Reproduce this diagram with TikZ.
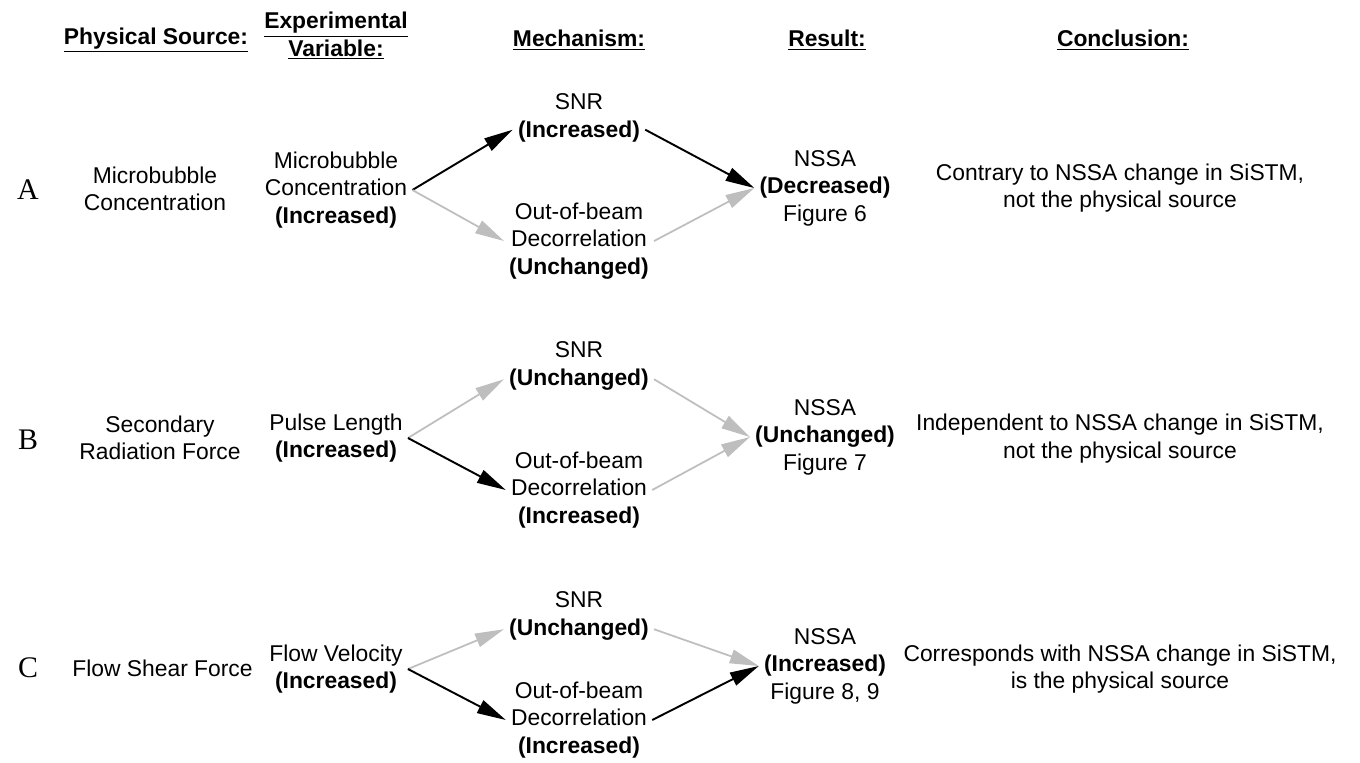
\documentclass[tikz,border=0pt]{standalone}
\usepackage{fontspec}
\setmainfont{Liberation Sans}
\newfontfamily\letterfont{Liberation Serif}
\usetikzlibrary{arrows.meta,positioning}
\definecolor{pathgray}{HTML}{BEBEBE}
\tikzset{
  >={Triangle[length=5.8mm,width=2.8mm]},
  tx/.style={font=\fontsize{13}{15.6}\selectfont,align=center,inner sep=3pt,outer sep=0pt},
  hd/.style={font=\fontsize{13}{15.6}\selectfont\bfseries,align=center,inner sep=2pt},
  rowlbl/.style={font=\letterfont\fontsize{17}{20}\selectfont},
  act/.style={->,draw=black,line width=1.1pt},
  inact/.style={->,draw=pathgray,line width=1pt},
}
\begin{document}
\begin{tikzpicture}[every node/.append style={tx}]
  \useasboundingbox (0,0) rectangle (27.2,-15.24);
  % kolumnrubriker
  \node[hd] (hsrc) at (3.12,-0.8) {\underline{Physical Source:}};
  \node[hd] (hvar) at (6.72,-0.72) {\underline{Experimental}\\\underline{Variable:}};
  \node[hd] (hmech) at (11.58,-0.8) {\underline{Mechanism:}};
  \node[hd] (hres) at (16.54,-0.8) {\underline{Result:}};
  \node[hd] (hconc) at (22.46,-0.8) {\underline{Conclusion:}};
  % A
  \node[rowlbl] (la) at (0.56,-3.8) {A};
  \node (srcA) at (3.1,-3.78) {Microbubble\\Concentration};
  \node (varA) at (6.72,-3.8) {Microbubble\\Concentration\\\textbf{(Increased)}};
  \node (snrA) at (11.58,-2.36) {SNR\\\textbf{(Increased)}};
  \node (oobA) at (11.58,-4.82) {Out-of-beam\\Decorrelation\\\textbf{(Unchanged)}};
  \node (nssaA) at (16.5,-3.76) {NSSA\\\textbf{(Decreased)}\\Figure 6};
  \node (concA) at (22.4,-3.76) {Contrary to NSSA change in SiSTM,\\not the physical source};
  \draw[act] (varA.east) -- (snrA.190);
  \draw[inact] (varA.east) -- (oobA.west);
  \draw[act] (snrA.350) -- (nssaA.west);
  \draw[inact] (oobA.east) -- (nssaA.west);
  % B
  \node[rowlbl] (lb) at (0.56,-8.8) {B};
  \node (srcB) at (3.2,-8.76) {Secondary\\Radiation Force};
  \node (varB) at (6.72,-8.76) {Pulse Length\\\textbf{(Increased)}};
  \node (snrB) at (11.58,-7.32) {SNR\\\textbf{(Unchanged)}};
  \node (oobB) at (11.58,-9.8) {Out-of-beam\\Decorrelation\\\textbf{(Increased)}};
  \node (nssaB) at (16.5,-8.74) {NSSA\\\textbf{(Unchanged)}\\Figure 7};
  \node (concB) at (22.4,-8.77) {Independent to NSSA change in SiSTM,\\not the physical source};
  \draw[inact] (varB.east) -- (snrB.190);
  \draw[act] (varB.east) -- (oobB.west);
  \draw[inact] (snrB.350) -- (nssaB.west);
  \draw[inact] (oobB.east) -- (nssaB.west);
  % C
  \node[rowlbl] (lc) at (0.56,-13.36) {C};
  \node (srcC) at (3.25,-13.36) {Flow Shear Force};
  \node (varC) at (6.72,-13.38) {Flow Velocity\\\textbf{(Increased)}};
  \node (snrC) at (11.58,-12.32) {SNR\\\textbf{(Unchanged)}};
  \node (oobC) at (11.58,-14.4) {Out-of-beam\\Decorrelation\\\textbf{(Increased)}};
  \node (nssaC) at (16.5,-13.32) {NSSA\\\textbf{(Increased)}\\Figure 8, 9};
  \node (concC) at (22.4,-13.38) {Corresponds with NSSA change in SiSTM,\\is the physical source};
  \draw[inact] (varC.east) -- (snrC.190);
  \draw[act] (varC.east) -- (oobC.west);
  \draw[inact] (snrC.350) -- (nssaC.west);
  \draw[act] (oobC.east) -- (nssaC.west);
\end{tikzpicture}
\end{document}
